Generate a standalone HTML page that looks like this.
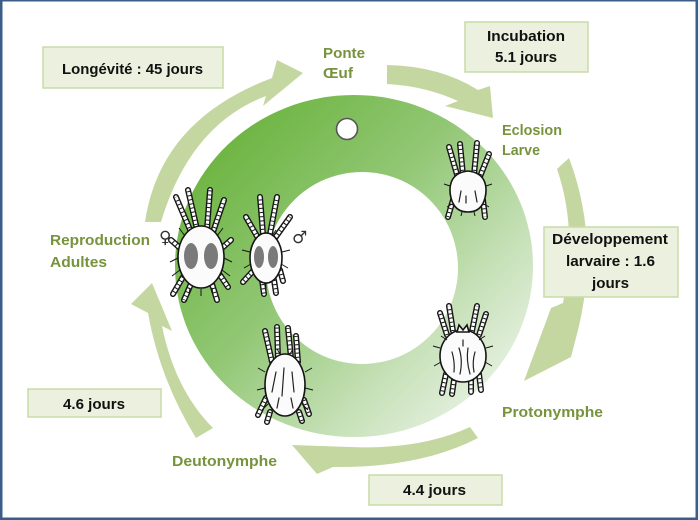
<!DOCTYPE html>
<html>
<head>
<meta charset="utf-8">
<style>
html,body{margin:0;padding:0;background:#fff;}
svg{display:block;}
.t{font-family:"Liberation Sans",Arial,sans-serif;font-weight:bold;font-size:15px;fill:#111;}
.g{font-family:"Liberation Sans",Arial,sans-serif;font-weight:bold;font-size:15px;fill:#77933c;}
.sym{font-family:"DejaVu Sans",sans-serif;font-size:17px;fill:#333;}
.lb{fill:none;stroke:#151515;stroke-width:6;stroke-linecap:round;stroke-linejoin:round;}
.lw{fill:none;stroke:#fff;stroke-width:3.2;stroke-linecap:round;}
.ls{fill:none;stroke:#151515;stroke-width:3.4;stroke-dasharray:1 3.2;}
.hr{fill:none;stroke:#151515;stroke-width:1;}
.bd{fill:#fbfbfb;stroke:#151515;stroke-width:1.6;}
.mk{fill:none;stroke:#222;stroke-width:1.2;stroke-linecap:round;}
.box{fill:#ebf1de;stroke:#c9dba8;stroke-width:1.5;}
.arr{fill:#c4d7a1;}
</style>
</head>
<body>
<svg width="700" height="520" viewBox="0 0 700 520" xmlns="http://www.w3.org/2000/svg">
<defs>
  <linearGradient id="rg" gradientUnits="userSpaceOnUse" x1="200" y1="130" x2="500" y2="420">
    <stop offset="0" stop-color="#68b23a"/>
    <stop offset="0.42" stop-color="#92c775"/>
    <stop offset="0.75" stop-color="#c9e2bb"/>
    <stop offset="1" stop-color="#eef5eb"/>
  </linearGradient>
  <path id="legLarva" d="M458,178 L449,147 M463,175 L460,144 M474,175 L477,143 M479,179 L489,154 M453,200 L448,217 M483,200 L485,217"/>
  <path id="legProto" d="M447,335 L440,313 M453,331 L449,306 M472,331 L477,306 M479,335 L486,314 M446,374 L442,393 M454,380 L452,394 M471,380 L471,392 M479,374 L481,390"/>
  <path id="legDeuto" d="M272,362 L265,331 M278,358 L277,327 M291,358 L288,328 M298,362 L296,336 M266,398 L258,415 M270,412 L267,422 M299,412 L302,421 M304,400 L309,414"/>
  <path id="legFem" d="M191,232 L176,197 M197,229 L188,190 M207,229 L210,190 M213,232 L224,200 M183,277 L173,294 M191,284 L184,300 M212,284 L217,300 M220,275 L228,287 M180,248 L171,240 M222,248 L231,240"/>
  <path id="legMale" d="M258,238 L246,217 M263,234 L260,197 M270,234 L277,197 M275,238 L290,217 M253,271 L243,282 M262,280 L264,294 M274,280 L276,293 M280,270 L283,281"/>
</defs>

<!-- frame -->
<rect x="0" y="0" width="700" height="520" fill="#fff"/>
<rect x="698" y="0" width="2" height="520" fill="#eef0f3"/>
<rect x="0" y="0" width="698" height="1.5" fill="#3d5d89"/>
<rect x="0" y="0" width="2.5" height="520" fill="#3d5d89"/>
<rect x="695.5" y="0" width="2.5" height="520" fill="#3d5d89"/>
<rect x="0" y="517.5" width="698" height="2.5" fill="#3d5d89"/>

<!-- ring -->
<path fill="url(#rg)" fill-rule="evenodd" d="M175,266 A179,171 0 1,0 533,266 A179,171 0 1,0 175,266 Z M266,268 A96,96 0 1,0 458,268 A96,96 0 1,0 266,268 Z"/>

<!-- egg -->
<circle cx="347" cy="129" r="10.5" fill="#fff" stroke="#555" stroke-width="1.6"/>

<!-- arrows -->
<path class="arr" d="M145,222 Q160,120 272,78 L277,60 L303,73 L263,106 L266,96 Q190,125 161,222 Z"/>
<path class="arr" d="M387,65 Q440,66 478,90 L490,86 L493,118 L445,106 L458,101 Q425,86 387,84 Z"/>
<path class="arr" d="M557,169 Q578,230 563,303 L551,308 L524,381 L571,357 L578,330 Q600,240 569,158 Z"/>
<path class="arr" d="M478,438 Q420,468 333,467 L317,474 L292,445 L350,447 Q420,450 470,427 Z"/>
<path class="arr" d="M196,438 Q160,380 148,313 L131,304 L152,283 L172,331 L162,326 Q175,390 213,428 Z"/>

<!-- boxes -->
<rect class="box" x="43" y="47" width="180" height="41"/>
<rect class="box" x="465" y="22" width="123" height="50"/>
<rect class="box" x="544" y="227" width="134" height="70"/>
<rect class="box" x="28" y="389" width="133" height="28"/>
<rect class="box" x="369" y="475" width="133" height="30"/>

<!-- box texts -->
<text class="t" x="62" y="74" textLength="141" lengthAdjust="spacingAndGlyphs">Longévité : 45 jours</text>
<text class="t" x="487" y="41" textLength="78" lengthAdjust="spacingAndGlyphs">Incubation</text>
<text class="t" x="495" y="62" textLength="62" lengthAdjust="spacingAndGlyphs">5.1 jours</text>
<text class="t" x="552" y="244" textLength="116" lengthAdjust="spacingAndGlyphs">Développement</text>
<text class="t" x="566" y="266" textLength="89" lengthAdjust="spacingAndGlyphs">larvaire : 1.6</text>
<text class="t" x="592" y="288" textLength="37" lengthAdjust="spacingAndGlyphs">jours</text>
<text class="t" x="63" y="409" textLength="62" lengthAdjust="spacingAndGlyphs">4.6 jours</text>
<text class="t" x="403" y="495" textLength="63" lengthAdjust="spacingAndGlyphs">4.4 jours</text>

<!-- stage labels -->
<text class="g" x="323" y="58" textLength="42" lengthAdjust="spacingAndGlyphs">Ponte</text>
<text class="g" x="323" y="78" textLength="30" lengthAdjust="spacingAndGlyphs">Œuf</text>
<text class="g" x="502" y="135" textLength="60" lengthAdjust="spacingAndGlyphs">Eclosion</text>
<text class="g" x="502" y="155" textLength="38" lengthAdjust="spacingAndGlyphs">Larve</text>
<text class="g" x="50" y="245" textLength="100" lengthAdjust="spacingAndGlyphs">Reproduction</text>
<text class="g" x="50" y="267" textLength="57" lengthAdjust="spacingAndGlyphs">Adultes</text>
<text class="g" x="502" y="417" textLength="101" lengthAdjust="spacingAndGlyphs">Protonymphe</text>
<text class="g" x="172" y="466" textLength="105" lengthAdjust="spacingAndGlyphs">Deutonymphe</text>

<!-- larva -->
<use href="#legLarva" class="lb"/><use href="#legLarva" class="lw"/><use href="#legLarva" class="ls"/>
<path class="bd" d="M468,171 C488,173 487,190 485,198 C482,210 474,212 468,212 C462,212 454,210 451,198 C449,190 448,173 468,171 Z"/>
<path class="mk" d="M461,191 L459,202 M475,191 L477,202 M466,196 L466,203"/>
<path class="hr" d="M450,186 L444,184 M486,186 L492,184 M452,204 L447,207 M484,204 L489,207 M462,212 L461,216 M474,212 L475,216"/>

<!-- protonymph -->
<use href="#legProto" class="lb"/><use href="#legProto" class="lw"/><use href="#legProto" class="ls"/>
<ellipse class="bd" cx="463" cy="356" rx="23" ry="26"/>
<path class="bd" d="M457,332 L459,325 L463,330 L467,325 L469,332 Z"/>
<path class="mk" d="M452,352 Q455,362 454,372 M459,348 Q463,360 460,374 M468,348 Q466,360 470,374 M475,352 Q472,362 474,372 M463,340 L463,346"/>
<path class="hr" d="M440,348 L433,346 M486,348 L493,346 M441,362 L434,366 M485,362 L492,366 M447,340 L441,336 M479,340 L485,336"/>

<!-- deutonymph -->
<use href="#legDeuto" class="lb"/><use href="#legDeuto" class="lw"/><use href="#legDeuto" class="ls"/>
<ellipse class="bd" cx="285" cy="385" rx="20" ry="31"/>
<path class="mk" d="M276,372 L272,392 M284,368 L282,396 M292,372 L294,392 M279,398 L277,408 M291,398 L293,408"/>
<path class="hr" d="M265,372 L258,368 M305,372 L312,368 M265,388 L257,390 M305,388 L313,390 M268,404 L262,410 M302,404 L308,410 M280,354 L277,349 M290,354 L293,349"/>

<!-- female adult -->
<use href="#legFem" class="lb"/><use href="#legFem" class="lw"/><use href="#legFem" class="ls"/>
<ellipse class="bd" cx="201" cy="257" rx="23" ry="31"/>
<ellipse cx="191" cy="256" rx="7" ry="13" fill="#5a5a5a" opacity="0.8"/>
<ellipse cx="211" cy="256" rx="7" ry="13" fill="#5a5a5a" opacity="0.8"/>
<path class="hr" d="M178,258 L170,262 M224,258 L232,262 M180,270 L172,276 M222,270 L230,276 M190,288 L189,295 M201,289 L201,296 M212,288 L213,295 M185,236 L179,228 M217,236 L223,228"/>

<!-- male adult -->
<use href="#legMale" class="lb"/><use href="#legMale" class="lw"/><use href="#legMale" class="ls"/>
<ellipse class="bd" cx="266" cy="258" rx="16" ry="25"/>
<ellipse cx="259" cy="257" rx="5" ry="11" fill="#5a5a5a" opacity="0.8"/>
<ellipse cx="273" cy="257" rx="5" ry="11" fill="#5a5a5a" opacity="0.8"/>
<path class="hr" d="M250,252 L242,250 M282,252 L290,250 M251,264 L244,268 M281,264 L288,268 M266,283 L266,290 M260,236 L256,230 M272,236 L276,230"/>

<!-- sex symbols (drawn last so they stay visible) -->
<text class="sym" x="159" y="243">♀</text>
<text class="sym" x="292" y="243">♂</text>
</svg>
</body>
</html>
